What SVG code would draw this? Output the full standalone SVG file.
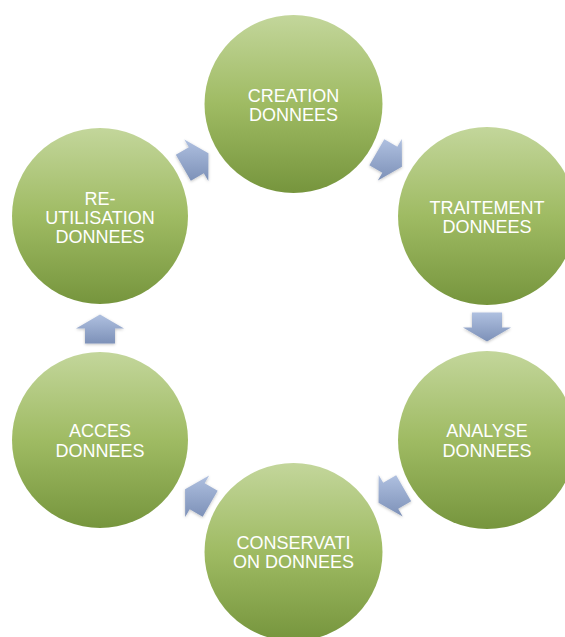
<svg xmlns="http://www.w3.org/2000/svg" width="565" height="637" viewBox="0 0 565 637">
  <defs>
    <linearGradient id="gNode" x1="0" y1="0" x2="0" y2="1">
      <stop offset="0" stop-color="#c3d69b"/>
      <stop offset="0.5" stop-color="#9fbb63"/>
      <stop offset="1" stop-color="#76953d"/>
    </linearGradient>
    <linearGradient id="gArrow" x1="0" y1="0" x2="0" y2="1">
      <stop offset="0" stop-color="#afc0e0"/>
      <stop offset="1" stop-color="#7d91b8"/>
    </linearGradient>
    <filter id="soft" x="-20%" y="-20%" width="140%" height="140%">
      <feGaussianBlur in="SourceAlpha" stdDeviation="1.5"/>
      <feOffset dx="0" dy="1" result="b"/>
      <feFlood flood-color="#000" flood-opacity="0.25"/>
      <feComposite in2="b" operator="in"/>
      <feMerge><feMergeNode/><feMergeNode in="SourceGraphic"/></feMerge>
    </filter>
  </defs>
  <style>
    .node { fill: url(#gNode); }
    .arrow { fill: url(#gArrow); filter: url(#soft); }
    .label { fill: #ffffff; font-family: "Liberation Sans", Arial, sans-serif; font-size: 18px; text-anchor: middle; }
  </style>
  <rect width="565" height="637" fill="#ffffff"/>

  <!-- cycle connectors -->
  <g id="connectors">
    <polygon class="arrow" points="175.83,154.76 188.82,147.26 184.32,139.47 208.44,153.25 208.32,181.03 203.82,173.24 190.83,180.74"/>
    <polygon class="arrow" points="384.33,139.26 397.32,146.76 401.82,138.97 401.94,166.75 377.82,180.53 382.32,172.74 369.33,165.24"/>
    <polygon class="arrow" points="502,312.5 502,327.5 511,327.5 487,341.5 463,327.5 472,327.5 472,312.5"/>
    <polygon class="arrow" points="411.17,501.24 398.18,508.74 402.68,516.53 378.56,502.75 378.68,474.97 383.18,482.76 396.17,475.26"/>
    <polygon class="arrow" points="202.67,516.74 189.68,509.24 185.18,517.03 185.06,489.25 209.18,475.47 204.68,483.26 217.67,490.76"/>
    <polygon class="arrow" points="85,343.5 85,328.5 76,328.5 100,314.5 124,328.5 115,328.5 115,343.5"/>
  </g>

  <g id="creation">
    <circle class="node" cx="293.5" cy="104" r="89"/>
    <text class="label" x="293.5" y="101.5">CREATION</text>
    <text class="label" x="293.5" y="121">DONNEES</text>
  </g>
  <g id="traitement">
    <circle class="node" cx="487" cy="216" r="89"/>
    <text class="label" x="487" y="213.5">TRAITEMENT</text>
    <text class="label" x="487" y="233">DONNEES</text>
  </g>
  <g id="analyse">
    <circle class="node" cx="487" cy="440" r="89"/>
    <text class="label" x="487" y="437">ANALYSE</text>
    <text class="label" x="487" y="456.5">DONNEES</text>
  </g>
  <g id="conservation">
    <circle class="node" cx="293.5" cy="552" r="89"/>
    <text class="label" x="293.5" y="548.5">CONSERVATI</text>
    <text class="label" x="293.5" y="568">ON DONNEES</text>
  </g>
  <g id="acces">
    <circle class="node" cx="100" cy="440" r="88"/>
    <text class="label" x="100" y="437">ACCES</text>
    <text class="label" x="100" y="456.5">DONNEES</text>
  </g>
  <g id="reutilisation">
    <circle class="node" cx="100" cy="216" r="88"/>
    <text class="label" x="100" y="205">RE-</text>
    <text class="label" x="100" y="224">UTILISATION</text>
    <text class="label" x="100" y="243">DONNEES</text>
  </g>
</svg>
